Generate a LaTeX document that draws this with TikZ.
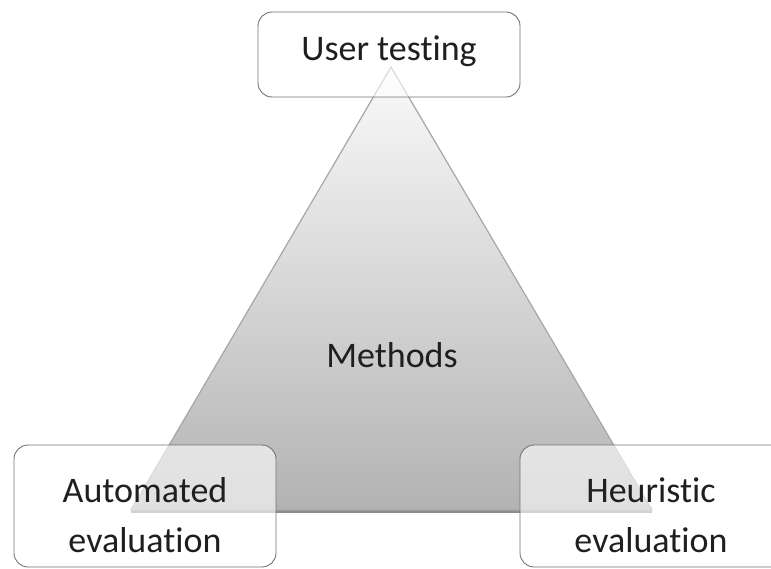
\documentclass[tikz,border=0pt]{standalone}
\usepackage{fontspec}
\setmainfont{Carlito}[RawFeature=-liga]
\usetikzlibrary{positioning}
\begin{document}
\begin{tikzpicture}[x=1pt,y=-1pt,
  methodbox/.style={draw=black!55, line width=0.9pt, fill=white, fill opacity=0.6,
    text opacity=1, rounded corners=14pt},
  lbl/.style={font=\fontsize{36}{50}\selectfont, text=black!88, align=center}]
  \useasboundingbox (0,0) rectangle (771,569);
  % shaded triangle with a soft shadow along the base
  \fill[black!45] (131,507) -- (652,507) -- (652,513) -- (131,513) -- cycle;
  \shade[top color=white!98!black, bottom color=black!30, draw=black!35, line width=1.2pt]
    (391,67) -- (652,510) -- (131,510) -- cycle;
  \coordinate (apex) at (391,67);
  \node[lbl] (methods) at (392,355) {Methods};
  % method boxes
  \draw[methodbox] (258,12) rectangle (520,97);
  \node[lbl] (user) at (389,51) {User testing};
  \draw[methodbox] (14,445) rectangle (276,567);
  \node[lbl] (auto) at (145,515) {Automated\\evaluation};
  \draw[methodbox] (520,445) rectangle (785,567);
  \node[lbl] (heur) at (651,515) {Heuristic\\evaluation};
\end{tikzpicture}
\end{document}
